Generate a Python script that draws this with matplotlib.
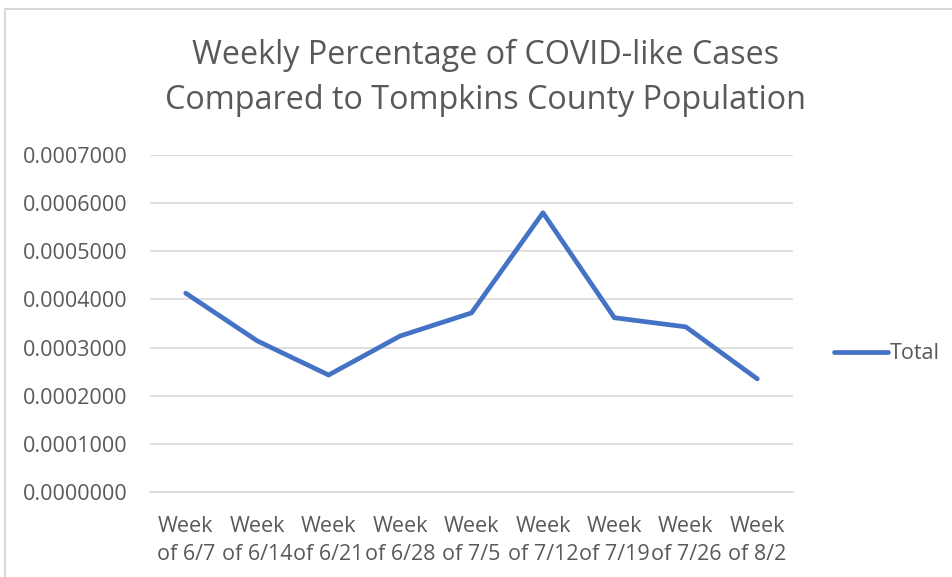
import matplotlib.pyplot as plt
from matplotlib.patches import Rectangle

weeks = ["Week\nof 6/7", "Week\nof 6/14", "Week\nof 6/21", "Week\nof 6/28", "Week\nof 7/5",
         "Week\nof 7/12", "Week\nof 7/19", "Week\nof 7/26", "Week\nof 8/2"]
total = [0.000413, 0.000314, 0.000243, 0.000324, 0.000372, 0.000580, 0.000362, 0.000343, 0.000235]
y_ticks = [0.0, 0.0001, 0.0002, 0.0003, 0.0004, 0.0005, 0.0006, 0.0007]

plt.rcParams["font.family"] = ["Open Sans", "DejaVu Sans"]
text_color = "#595959"
grid_color = "#D9D9D9"

fig = plt.figure(figsize=(9.52, 5.77), dpi=100)
ax = fig.add_axes([150 / 952, 1 - 492 / 577, (793 - 150) / 952, (492 - 155) / 577])

# chart frame
fig.patches.append(Rectangle((5 / 952, -0.05), 1.1, 1 - 9 / 577 + 0.05, transform=fig.transFigure,
                             fill=False, edgecolor=grid_color, linewidth=1.5))

x = list(range(len(weeks)))
ax.plot(x, total, color="#4472C4", linewidth=3.4, solid_capstyle="round",
        solid_joinstyle="round", label="Total")

ax.set_xlim(-0.5, len(weeks) - 0.5)
ax.set_ylim(0, 0.0007)
ax.set_yticks(y_ticks)
ax.set_yticklabels([f"{v:.7f}" for v in y_ticks])
ax.set_xticks(x)
ax.set_xticklabels(weeks, linespacing=1.4)
ax.tick_params(length=0, labelsize=15.5, colors=text_color)
ax.tick_params(axis="y", pad=16)
ax.tick_params(axis="x", pad=17.5)
ax.grid(axis="y", color=grid_color, linewidth=1.2)
ax.set_axisbelow(True)
for side in ["top", "right", "left"]:
    ax.spines[side].set_visible(False)
ax.spines["bottom"].set_color(grid_color)
ax.spines["bottom"].set_linewidth(1.2)

fig.text(486 / 952, 1 - 78 / 577, "Weekly Percentage of COVID-like Cases\nCompared to Tompkins County Population",
         ha="center", va="center", fontsize=23.3, color=text_color, linespacing=1.5)

leg = ax.legend(loc="center left", bbox_to_anchor=(1.05, 0.41), frameon=False, fontsize=15.5,
                handlelength=2.5, handletextpad=0.1, borderaxespad=0)
for t in leg.get_texts():
    t.set_color(text_color)

fig.savefig("out.png", dpi=100)
